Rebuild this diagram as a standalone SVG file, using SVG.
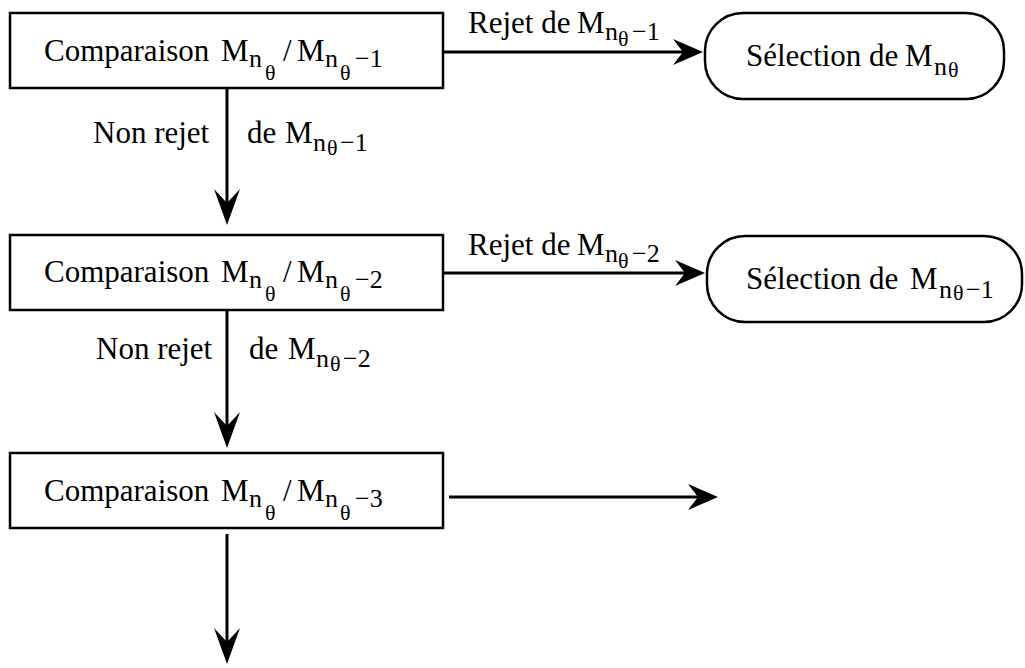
<svg xmlns="http://www.w3.org/2000/svg" width="1025" height="668" viewBox="0 0 1025 668">
<style>
.t{font-family:"Liberation Serif","Times New Roman",serif;fill:#000;font-size:31px}
.s{font-size:26px}
.ss{font-size:22px}
.box{fill:#fff;stroke:#000;stroke-width:2.5}
.conn{stroke:#000;stroke-width:3;fill:none}
</style>
<defs>
<marker id="ah" markerUnits="userSpaceOnUse" viewBox="-12 -15 34 30" refX="0" refY="0" markerWidth="34" markerHeight="30" orient="auto">
<path d="M20,0 L-10,-13 L0,0 L-10,13 Z" fill="#000"/>
</marker>
<marker id="av" markerUnits="userSpaceOnUse" viewBox="-16 -15 40 30" refX="0" refY="0" markerWidth="40" markerHeight="30" orient="auto">
<path d="M22,0 L-14,-13 L0,0 L-14,13 Z" fill="#000"/>
</marker>
</defs>
<rect width="1025" height="668" fill="#fff"/>
<g id="connectors">
<path class="conn" d="M443,52 H683" marker-end="url(#ah)"/>
<path class="conn" d="M227,88 V203" marker-end="url(#av)"/>
<path class="conn" d="M443,273 H685" marker-end="url(#ah)"/>
<path class="conn" d="M227,310 V426" marker-end="url(#av)"/>
<path class="conn" d="M449,497 H698" marker-end="url(#ah)"/>
<path class="conn" d="M227,534 V642" marker-end="url(#av)"/>
<text class="t"><tspan x="468" y="33">Rejet de</tspan><tspan x="577" y="33">M</tspan><tspan class="s" x="605" y="40">n</tspan><tspan class="ss" x="618" y="46">θ</tspan><tspan class="s" x="632" y="40">−1</tspan></text>
<text class="t"><tspan x="93" y="143">Non rejet</tspan><tspan x="247" y="143">de</tspan><tspan x="285" y="143">M</tspan><tspan class="s" x="313" y="151">n</tspan><tspan class="ss" x="327" y="155">θ</tspan><tspan class="s" x="340" y="151">−1</tspan></text>
<text class="t"><tspan x="468" y="255">Rejet de</tspan><tspan x="577" y="255">M</tspan><tspan class="s" x="605" y="262">n</tspan><tspan class="ss" x="618" y="268">θ</tspan><tspan class="s" x="632" y="262">−2</tspan></text>
<text class="t"><tspan x="96" y="359">Non rejet</tspan><tspan x="249" y="359">de</tspan><tspan x="288" y="359">M</tspan><tspan class="s" x="316" y="367">n</tspan><tspan class="ss" x="330" y="371">θ</tspan><tspan class="s" x="343" y="367">−2</tspan></text>
</g>
<g id="node-comp1">
<rect class="box" x="10" y="13" width="433" height="75"/>
<text class="t"><tspan x="44" y="61">Comparaison</tspan><tspan x="221" y="61">M</tspan><tspan class="s" x="249" y="67">n</tspan><tspan class="ss" x="265" y="80">θ</tspan><tspan x="283" y="61">/</tspan><tspan x="297" y="61">M</tspan><tspan class="s" x="325" y="67">n</tspan><tspan class="ss" x="340" y="80">θ</tspan><tspan class="s" x="355" y="67">−1</tspan></text>
</g>
<g id="node-sel1">
<rect class="box" x="705" y="13" width="299" height="86" rx="38" ry="38"/>
<text class="t"><tspan x="746" y="66">Sélection de</tspan><tspan x="905" y="66">M</tspan><tspan class="s" x="934" y="75">n</tspan><tspan class="ss" x="948" y="77">θ</tspan></text>
</g>
<g id="node-comp2">
<rect class="box" x="10" y="235" width="433" height="75"/>
<text class="t"><tspan x="44" y="282">Comparaison</tspan><tspan x="221" y="282">M</tspan><tspan class="s" x="249" y="288">n</tspan><tspan class="ss" x="265" y="301">θ</tspan><tspan x="283" y="282">/</tspan><tspan x="297" y="282">M</tspan><tspan class="s" x="325" y="288">n</tspan><tspan class="ss" x="340" y="301">θ</tspan><tspan class="s" x="355" y="288">−2</tspan></text>
</g>
<g id="node-sel2">
<rect class="box" x="707" y="236" width="315" height="86" rx="38" ry="38"/>
<text class="t"><tspan x="746" y="289">Sélection de</tspan><tspan x="910" y="289">M</tspan><tspan class="s" x="939" y="298">n</tspan><tspan class="ss" x="953" y="300">θ</tspan><tspan class="s" x="966" y="298">−1</tspan></text>
</g>
<g id="node-comp3">
<rect class="box" x="10" y="453" width="433" height="75"/>
<text class="t"><tspan x="44" y="501">Comparaison</tspan><tspan x="221" y="501">M</tspan><tspan class="s" x="249" y="507">n</tspan><tspan class="ss" x="265" y="520">θ</tspan><tspan x="283" y="501">/</tspan><tspan x="297" y="501">M</tspan><tspan class="s" x="325" y="507">n</tspan><tspan class="ss" x="340" y="520">θ</tspan><tspan class="s" x="355" y="507">−3</tspan></text>
</g>
</svg>
